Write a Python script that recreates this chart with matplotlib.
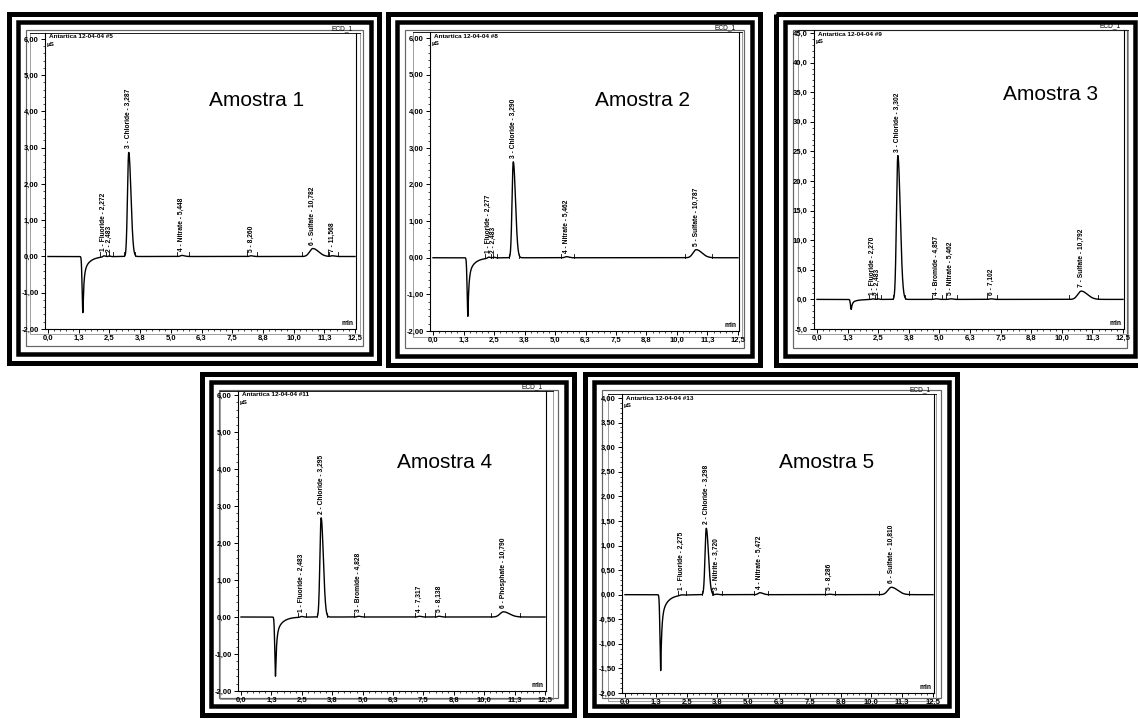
import numpy as np
import matplotlib.pyplot as plt
from matplotlib.patches import Rectangle
from matplotlib.ticker import AutoMinorLocator

plt.rcParams['font.family'] = ['Liberation Sans', 'DejaVu Sans']

W, H = 1138, 719

time_ticks = [0.0, 1.25, 2.5, 3.75, 5.0, 6.25, 7.5, 8.75, 10.0, 11.25, 12.5]
time_labels = ["0,0", "1,3", "2,5", "3,8", "5,0", "6,3", "7,5", "8,8", "10,0", "11,3", "12,5"]

# --- Amostra 1 ---
a1_title = "Antartica 12-04-04 #5"
a1_rt = [2.272, 2.483, 3.287, 5.448, 8.260, 10.782, 11.568]
a1_height = [0.03, 0.02, 2.87, 0.03, 0.02, 0.22, 0.02]
a1_width = [0.04, 0.03, 0.05, 0.06, 0.05, 0.13, 0.05]
a1_names = ["1 - Fluoride - 2,272", "2 - 2,483", "3 - Chloride - 3,287", "4 - Nitrate - 5,448",
            "5 - 8,260", "6 - Sulfate - 10,782", "7 - 11,568"]
a1_dip = [1.42, -1.55]
a1_yticks = [-2, -1, 0, 1, 2, 3, 4, 5, 6]
a1_ylabels = ["-2,00", "-1,00", "0,00", "1,00", "2,00", "3,00", "4,00", "5,00", "6,00"]

# --- Amostra 2 ---
a2_title = "Antartica 12-04-04 #8"
a2_rt = [2.277, 2.483, 3.290, 5.462, 10.787]
a2_height = [0.03, 0.02, 2.62, 0.03, 0.22]
a2_width = [0.04, 0.03, 0.05, 0.06, 0.13]
a2_names = ["1 - Fluoride - 2,277", "2 - 2,483", "3 - Chloride - 3,290", "4 - Nitrate - 5,462",
            "5 - Sulfate - 10,787"]
a2_dip = [1.43, -1.6]
a2_yticks = [-2, -1, 0, 1, 2, 3, 4, 5, 6]
a2_ylabels = ["-2,00", "-1,00", "0,00", "1,00", "2,00", "3,00", "4,00", "5,00", "6,00"]

# --- Amostra 3 ---
a3_title = "Antartica 12-04-04 #9"
a3_rt = [2.270, 2.483, 3.302, 4.857, 5.462, 7.102, 10.792]
a3_height = [0.1, 0.1, 24.3, 0.1, 0.1, 0.1, 1.4]
a3_width = [0.04, 0.03, 0.055, 0.05, 0.05, 0.05, 0.14]
a3_names = ["1 - Fluoride - 2,270", "2 - 2,483", "3 - Chloride - 3,302", "4 - Bromide - 4,857",
            "5 - Nitrate - 5,462", "6 - 7,102", "7 - Sulfate - 10,792"]
a3_dip = [1.40, -1.7]
a3_yticks = [-5, 0, 5, 10, 15, 20, 25, 30, 35, 40, 45]
a3_ylabels = ["-5,0", "0,0", "5,0", "10,0", "15,0", "20,0", "25,0", "30,0", "35,0", "40,0", "45,0"]

# --- Amostra 4 ---
a4_title = "Antartica 12-04-04 #11"
a4_rt = [2.483, 3.295, 4.828, 7.317, 8.138, 10.790]
a4_height = [0.02, 2.68, 0.02, 0.02, 0.02, 0.14]
a4_width = [0.04, 0.05, 0.05, 0.05, 0.05, 0.14]
a4_names = ["1 - Fluoride - 2,483", "2 - Chloride - 3,295", "3 - Bromide - 4,828", "4 - 7,317",
            "5 - 8,138", "6 - Phosphate - 10,790"]
a4_dip = [1.42, -1.6]
a4_yticks = [-2, -1, 0, 1, 2, 3, 4, 5, 6]
a4_ylabels = ["-2,00", "-1,00", "0,00", "1,00", "2,00", "3,00", "4,00", "5,00", "6,00"]

# --- Amostra 5 ---
a5_title = "Antartica 12-04-04 #13"
a5_rt = [2.275, 3.298, 3.720, 5.472, 8.286, 10.810]
a5_height = [0.01, 1.35, 0.01, 0.04, 0.01, 0.15]
a5_width = [0.04, 0.05, 0.04, 0.07, 0.05, 0.14]
a5_names = ["1 - Fluoride - 2,275", "2 - Chloride - 3,298", "3 - Nitrite - 3,720", "4 - Nitrate - 5,472",
            "5 - 8,286", "6 - Sulfate - 10,810"]
a5_dip = [1.45, -1.55]
a5_yticks = [-2, -1.5, -1, -0.5, 0, 0.5, 1, 1.5, 2, 2.5, 3, 3.5, 4]
a5_ylabels = ["-2,00", "-1,50", "-1,00", "-0,50", "0,00", "0,50", "1,00", "1,50", "2,00",
              "2,50", "3,00", "3,50", "4,00"]

samples = [
    dict(title=a1_title, rt=a1_rt, h=a1_height, w=a1_width, names=a1_names, dip=a1_dip,
         yt=a1_yticks, yl=a1_ylabels, name="Amostra 1",
         frame=(7, 11, 382, 365), x0=48, x1=355, ytop=39, ybot=329, top=33,
         box=(30, 360, 334), lab=(257, 100)),
    dict(title=a2_title, rt=a2_rt, h=a2_height, w=a2_width, names=a2_names, dip=a2_dip,
         yt=a2_yticks, yl=a2_ylabels, name="Amostra 2",
         frame=(386, 11, 763, 367), x0=433, x1=738, ytop=38, ybot=331, top=32,
         box=(413, 742, 337), lab=(643, 100)),
    dict(title=a3_title, rt=a3_rt, h=a3_height, w=a3_width, names=a3_names, dip=a3_dip,
         yt=a3_yticks, yl=a3_ylabels, name="Amostra 3",
         frame=(774, 11, 1146, 367), x0=817, x1=1123, ytop=33, ybot=329, top=30,
         box=(798, 1128, 334), lab=(1051, 94)),
    dict(title=a4_title, rt=a4_rt, h=a4_height, w=a4_width, names=a4_names, dip=a4_dip,
         yt=a4_yticks, yl=a4_ylabels, name="Amostra 4",
         frame=(200, 371, 577, 717), x0=241, x1=545, ytop=395, ybot=691, top=391,
         box=(220, 553, 699), lab=(445, 462)),
    dict(title=a5_title, rt=a5_rt, h=a5_height, w=a5_width, names=a5_names, dip=a5_dip,
         yt=a5_yticks, yl=a5_ylabels, name="Amostra 5",
         frame=(583, 371, 960, 717), x0=625, x1=933, ytop=398, ybot=693, top=394,
         box=(608, 936, 701), lab=(827, 462)),
]


def signal(t, rt, height, width, dip):
    y = np.zeros_like(t)
    td, dd = dip
    left = t < td
    y[left] += dd * np.exp(-0.5 * ((t[left] - td) / 0.03) ** 2)
    dt = t[~left] - td
    y[~left] += dd * (0.7 * np.exp(-dt / 0.04) + 0.3 * np.exp(-dt / 0.24))
    for r, h, w in zip(rt, height, width):
        s = np.where(t < r, w, 1.8 * w)
        y += h * np.exp(-0.5 * ((t - r) / s) ** 2)
    return y


fig = plt.figure(figsize=(W / 100, H / 100), dpi=100)
bg = fig.add_axes([0, 0, 1, 1], zorder=0)
bg.set_xlim(0, W)
bg.set_ylim(H, 0)
bg.axis('off')

PT = 0.72  # points per pixel at 100 dpi


def band(L, T, R, B, inset, px, color='black'):
    bg.add_patch(Rectangle((L + inset, T + inset), R - L - 2 * inset, B - T - 2 * inset,
                           fill=False, ec=color, lw=px * PT, joinstyle='miter'))


t = np.linspace(0, 12.5, 4000)

for s in samples:
    L, T, R, B = s['frame']
    band(L, T, R, B, 2.5, 5)
    band(L, T, R, B, 11, 4.5)
    band(L, T, R, B, 19, 1.2, '#666666')

    # outer chart box
    bl, br, bb = s['box']
    bg.plot([bl, bl, br, br], [s['top'], bb, bb, s['top']], color='#888888', lw=0.8 * PT)
    bg.plot([bl, br], [s['top'], s['top']], color='#222222', lw=1.0 * PT)

    x0, x1 = s['x0'], s['x1']
    k = (x1 - x0) / 12.5
    ymin, ymax = s['yt'][0], s['yt'][-1]
    m = (s['ybot'] - s['ytop']) / (ymax - ymin)
    al, ar = x0 - 3, x1 + 1
    ax = fig.add_axes([al / W, 1 - s['ybot'] / H, (ar - al) / W, (s['ybot'] - s['top']) / H], zorder=2)
    ax.patch.set_visible(False)
    ax.set_xlim(-3 / k, 12.5 + 1 / k)
    ax.set_ylim(ymin, ymax + (s['ytop'] - s['top']) / m)

    y = signal(t, s['rt'], s['h'], s['w'], s['dip'])
    ax.plot(t, y, color='black', lw=1.0)

    # integration marks and peak names
    off = 4 / m
    for r, h, w, nm in zip(s['rt'], s['h'], s['w'], s['names']):
        for e in (r - 3.5 * w, r + 5 * w):
            ax.plot([e, e], [0, 4 / m], color='black', lw=0.6)
        ax.text(r, max(h, 0) + off, nm, rotation=90, ha='center', va='bottom',
                fontsize=4.8, fontweight='bold')

    ax.set_xticks(time_ticks)
    ax.set_xticklabels(time_labels)
    ax.set_yticks(s['yt'])
    ax.set_yticklabels(s['yl'])
    ax.xaxis.set_minor_locator(AutoMinorLocator(5))
    ax.yaxis.set_minor_locator(AutoMinorLocator(5))
    ax.tick_params(which='major', length=3, width=0.7, labelsize=5.5, pad=1.5)
    ax.tick_params(which='minor', length=1.5, width=0.5)
    for lab in ax.get_xticklabels() + ax.get_yticklabels():
        lab.set_fontweight('bold')
    for sp in ax.spines.values():
        sp.set_linewidth(0.8)
    ax.spines['top'].set_visible(False)

    bg.text(x0 + 1, s['top'] + 1.5, s['title'], fontsize=4.6, fontweight='bold', va='top', ha='left',
            zorder=5)
    bg.text(x1 - 2, s['top'] - 1, "ECD_1", fontsize=4.8, va='bottom', ha='right')
    bg.text(x0 - 1, s['top'] + 9, "µS", fontsize=4.6, fontweight='bold', va='top', ha='left')
    bg.text(x1 - 1, s['ybot'] - 2, "min", fontsize=4.8, fontweight='bold', va='bottom', ha='right')

    bg.text(s['lab'][0], s['lab'][1], s['name'], fontsize=15, ha='center', va='center')

fig.savefig("out.png", dpi=100)
